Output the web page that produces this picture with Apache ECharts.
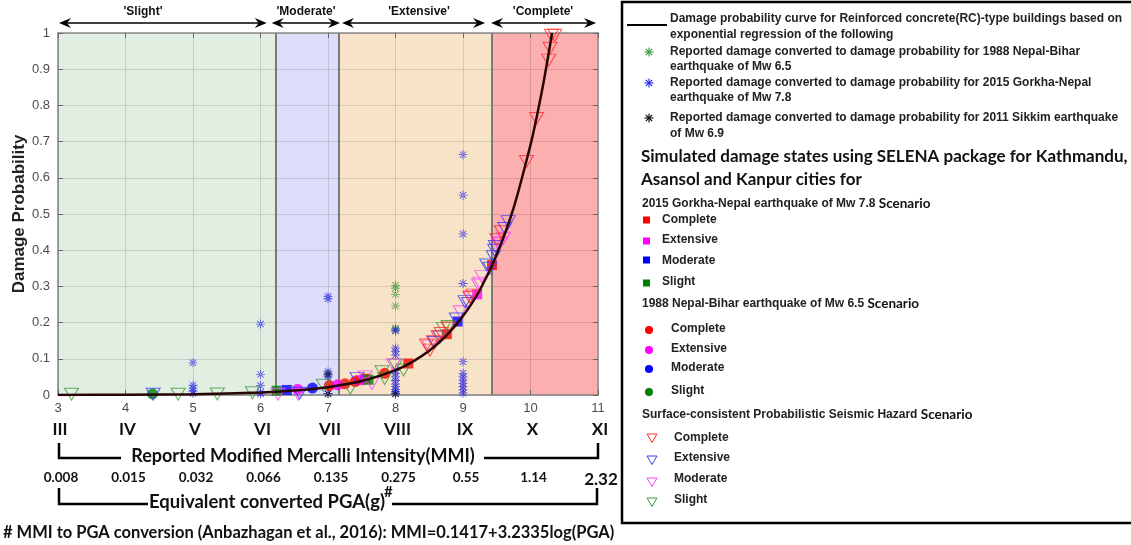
<!DOCTYPE html>
<html><head><meta charset="utf-8">
<script src="https://cdn.jsdelivr.net/npm/echarts@6/dist/echarts.min.js"></script>
<style>html,body{margin:0;padding:0;background:#fff}#c{width:1131px;height:545px}</style>
</head><body><div id="c"></div>
<script>
// ---------- DATA ----------
const mmiTicks = [3, 4, 5, 6, 7, 8, 9, 10, 11];
const romanLabels = ['III', 'IV', 'V', 'VI', 'VII', 'VIII', 'IX', 'X', 'XI'];
const pgaLabels = ['0.008', '0.015', '0.032', '0.066', '0.135', '0.275', '0.55', '1.14', '2.32'];
const bandLabels = ["'Slight'", "'Moderate'", "'Extensive'", "'Complete'"];
const bandEdges = [3, 6.225, 7.163, 9.43, 11];
const stateNames = ['Complete', 'Extensive', 'Moderate', 'Slight'];

// damage probability curve (exponential regression)
const curveMMI  = [3, 4, 5, 6, 6.5, 7, 7.5, 8, 8.25, 8.5, 8.75, 9, 9.25, 9.5, 9.75, 10, 10.1, 10.2, 10.32];
const curveProb = [0.0002, 0.0007, 0.0021, 0.0068, 0.0121, 0.0216, 0.0385, 0.0686, 0.0915, 0.122, 0.163, 0.218, 0.290, 0.388, 0.517, 0.691, 0.775, 0.870, 1.0];

// reported damage (asterisks)
const reportedNepalBihar1988 = [[8, 0.303], [8, 0.295], [8, 0.278], [8, 0.246], [8, 0.185], [8, 0.178]];
const reportedGorkha2015 = [
  [5, 0.089], [5, 0.027], [5, 0.019], [5, 0.011], [5, 0.004],
  [6, 0.196], [6, 0.057], [6, 0.026], [6, 0.008], [6, 0.003],
  [7, 0.272], [7, 0.266], [7, 0.064], [7, 0.055], [7, 0.050], [7, 0.004],
  [8, 0.182], [8, 0.177], [8, 0.130], [8, 0.120], [8, 0.110], [8, 0.069], [8, 0.060], [8, 0.050],
  [8, 0.040], [8, 0.030], [8, 0.023], [8, 0.015], [8, 0.009], [8, 0.004],
  [9, 0.664], [9, 0.552], [9, 0.445], [9, 0.308], [9, 0.092], [9, 0.060], [9, 0.050], [9, 0.041],
  [9, 0.032], [9, 0.023], [9, 0.014], [9, 0.005]
];
const reportedSikkim2011 = [[7, 0.003], [7, 0.058], [8, 0.003]];

// SELENA: 2015 Gorkha-Nepal scenario (filled squares)
const gorkhaComplete  = [[7.55, 0.045], [8.19, 0.087], [8.76, 0.168], [9.43, 0.359]];
const gorkhaExtensive = [[7.47, 0.041], [9.21, 0.278]];
const gorkhaModerate  = [[6.39, 0.014], [8.92, 0.203]];
const gorkhaSlight    = [[6.24, 0.012], [7.60, 0.042]];

// SELENA: 1988 Nepal-Bihar scenario (filled circles)
const biharComplete  = [[7.02, 0.026], [7.25, 0.031], [7.40, 0.037], [7.84, 0.060]];
const biharExtensive = [[6.55, 0.016], [7.14, 0.028]];
const biharModerate  = [[6.77, 0.019]];
const biharSlight    = [[4.40, 0.003]];

// Surface-consistent PSHA scenario (open down triangles)
const pshaComplete = [[10.31, 0.994], [10.36, 0.994], [10.29, 0.958], [10.27, 0.925], [10.09, 0.764], [9.94, 0.645],
  [9.57, 0.451], [9.50, 0.430], [9.15, 0.276], [9.10, 0.270], [8.78, 0.185], [8.68, 0.170], [8.63, 0.161],
  [8.56, 0.147], [8.51, 0.124], [8.46, 0.138]];
const pshaExtensive = [[4.41, 0.002], [6.58, 0.005], [7.43, 0.046], [8.58, 0.145], [8.66, 0.160], [8.90, 0.210],
  [9.03, 0.258], [9.08, 0.253], [9.35, 0.359], [9.40, 0.350], [9.45, 0.382], [9.47, 0.400], [9.48, 0.410],
  [9.62, 0.460], [9.67, 0.479]];
const pshaModerate = [[6.26, 0.002], [6.56, 0.002], [7.55, 0.050], [7.65, 0.032], [7.97, 0.083], [8.50, 0.135],
  [8.96, 0.230], [9.12, 0.270], [9.23, 0.304], [9.25, 0.309], [9.28, 0.327], [9.52, 0.419], [9.55, 0.419], [9.60, 0.433]];
const pshaSlight = [[3.20, 0.002], [4.78, 0.002], [5.36, 0.003], [5.88, 0.006], [6.93, 0.027], [7.33, 0.019],
  [7.80, 0.064], [7.84, 0.046], [8.00, 0.083], [8.12, 0.069], [8.71, 0.184], [8.78, 0.189]];

// ---------- STYLE ----------
const bandColors = ['#e2eee1', '#dedefa', '#f7e3c8', '#fcafaf'];
const stateColors = { Complete: '#ff0000', Extensive: '#ff00ff', Moderate: '#0000ff', Slight: '#008000' };
const triColors = { Complete: '#ff2a2a', Extensive: '#3a3aff', Moderate: '#ff3cff', Slight: '#3c9a3c' };
const ASTER = 'path://M-0.09,-1L0.09,-1L0.09,1L-0.09,1Z M-1,-0.09L1,-0.09L1,0.09L-1,0.09Z M-0.77,-0.64L0.64,0.77L0.77,0.64L-0.64,-0.77Z M-0.77,0.64L-0.64,0.77L0.77,-0.64L0.64,-0.77Z';
const TRI = 'path://M0,0L10,0L5,8.66Z';
const ARIAL = 'Liberation Sans, Arial, sans-serif';
const CAL = 'Lato, Calibri, sans-serif';

const chart = echarts.init(document.getElementById('c'), null, { renderer: 'canvas' });

function xAxisBase(extra) {
  return Object.assign({
    type: 'value', min: 3, max: 11, interval: 1, gridIndex: 0, z: 2,
    axisLine: { show: false }, axisTick: { show: false }, splitLine: { show: false },
    axisLabel: { show: false }
  }, extra);
}

const series = [];
series.push({
  type: 'custom', z: 1, silent: true,
  data: bandEdges.slice(0, -1).map((e, i) => [e, bandEdges[i + 1], i]),
  renderItem(params, api) {
    const p0 = api.coord([api.value(0), 1]);
    const p1 = api.coord([api.value(1), 0]);
    return { type: 'rect', shape: { x: p0[0], y: p0[1], width: p1[0] - p0[0], height: p1[1] - p0[1] },
      style: { fill: bandColors[api.value(2)] } };
  },
  markLine: {
    silent: true, symbol: 'none', label: { show: false },
    lineStyle: { color: '#7a7a7a', width: 2, type: 'solid' },
    data: bandEdges.slice(1, -1).map(v => ({ xAxis: v }))
  }
});

function scatter(name, data, symbol, size, style, z) {
  return { name, type: 'scatter', data, symbol, symbolSize: size, itemStyle: style, z: z || 4 };
}
series.push(scatter('Reported 1988', reportedNepalBihar1988, ASTER, 9, { color: '#3a9a3a' }, 4));
series.push(scatter('Reported 2015', reportedGorkha2015, ASTER, 9, { color: '#2626e6' }, 4));
series.push(scatter('Reported 2011', reportedSikkim2011, ASTER, 9, { color: '#000' }, 4));
const gorkha = [gorkhaComplete, gorkhaExtensive, gorkhaModerate, gorkhaSlight];
const bihar = [biharComplete, biharExtensive, biharModerate, biharSlight];
const psha = [pshaComplete, pshaExtensive, pshaModerate, pshaSlight];
stateNames.forEach((s, i) => {
  series.push(scatter('Gorkha ' + s, gorkha[i], 'rect', 10, { color: stateColors[s] }, 5));
});
stateNames.forEach((s, i) => {
  series.push(scatter('Bihar ' + s, bihar[i], 'circle', 11, { color: stateColors[s] }, 5));
});
[3, 2, 1, 0].forEach(i => {
  const s = stateNames[i];
  series.push(scatter('PSHA ' + s, psha[i], TRI, [14, 12],
    { color: 'rgba(0,0,0,0)', borderColor: triColors[s], borderWidth: 1 }, 6));
});
series.push({
  name: 'curve', type: 'line', z: 7, smooth: 0.3, showSymbol: false,
  data: curveMMI.map((x, i) => [x, curveProb[i]]),
  lineStyle: { color: '#2a0505', width: 2.5 }
});

const option = {
  animation: false,
  backgroundColor: '#fff',
  grid: { left: 58, right: 533, top: 33, bottom: 150, containLabel: false },
  xAxis: [
    xAxisBase({
      axisLine: { show: true, lineStyle: { color: '#808080', width: 1.5 } },
      axisTick: { show: true, inside: true, length: 5, lineStyle: { color: '#666' } },
      splitLine: { show: true, lineStyle: { color: 'rgba(0,0,0,0.12)', width: 1 } },
      axisLabel: { show: true, margin: 7, color: '#4d4d4d', fontSize: 13, fontFamily: ARIAL,
        showMinLabel: true, showMaxLabel: true },
      position: 'bottom'
    }),
    xAxisBase({
      position: 'bottom',
      axisLabel: { show: true, margin: 26, color: '#111', fontSize: 17, fontWeight: 'bold', fontFamily: CAL,
        showMinLabel: true, showMaxLabel: true, padding: [0, 0, 0, 4],
        formatter: v => romanLabels[mmiTicks.indexOf(Math.round(v))] || '' }
    }),
    xAxisBase({
      position: 'bottom',
      axisLabel: { show: true, margin: 76, color: '#111', fontSize: 13.5, fontWeight: 'bold', fontFamily: CAL,
        showMinLabel: true, showMaxLabel: true, padding: [0, 0, 0, 6],
        formatter: v => { const i = mmiTicks.indexOf(Math.round(v)); const t = pgaLabels[i] || '';
          return i === pgaLabels.length - 1 ? '{big|' + t + '}' : t; },
        rich: { big: { fontSize: 17, fontWeight: 'bold', fontFamily: CAL, color: '#111' } } }
    }),
    xAxisBase({
      position: 'top',
      axisLine: { show: true, lineStyle: { color: '#8a8a8a', width: 1.5 } },
      axisTick: { show: true, inside: true, length: 5, lineStyle: { color: '#666' } }
    })
  ],
  yAxis: [
    {
      type: 'value', min: 0, max: 1, interval: 0.1, z: 2, position: 'left',
      name: 'Damage Probability', nameLocation: 'middle', nameGap: 25,
      nameTextStyle: { fontSize: 17, fontWeight: 'bold', color: '#222', fontFamily: ARIAL },
      axisLine: { show: true, lineStyle: { color: '#808080', width: 1.5 } },
      axisTick: { show: true, inside: true, length: 5, lineStyle: { color: '#666' } },
      splitLine: { show: true, lineStyle: { color: 'rgba(0,0,0,0.12)', width: 1 } },
      axisLabel: { color: '#4d4d4d', fontSize: 13, fontFamily: ARIAL, margin: 8,
        formatter: v => (Math.round(v * 10) / 10).toString() }
    },
    {
      type: 'value', min: 0, max: 1, interval: 0.1, z: 2, position: 'right',
      axisLine: { show: true, lineStyle: { color: '#8a8a8a', width: 1.5 } },
      axisTick: { show: true, inside: true, length: 5, lineStyle: { color: '#666' } },
      splitLine: { show: false }, axisLabel: { show: false }
    }
  ],
  series
};
chart.setOption(option);

// ---------- ANNOTATIONS (graphic) ----------
const g = [];
const TXT = (x, y, text, font, extra) => ({
  type: 'text', x, y, silent: true,
  style: Object.assign({ text, fill: '#111', verticalAlign: 'middle', align: 'left' }, font, extra || {})
});
const arrowY = 23;
const arrowInsets = [[1, -9], [-4, 1], [3, -7], [-1, -2]];
const labelX = [143, 306, 419, 543];
function head(x, y, dir) {
  return { type: 'polygon', silent: true,
    shape: { points: [[x, y], [x - dir * 12, y - 5], [x - dir * 8, y], [x - dir * 12, y + 5]] },
    style: { fill: '#000' } };
}
for (let i = 0; i < 4; i++) {
  const xa = chart.convertToPixel({ gridIndex: 0 }, [bandEdges[i], 1])[0] + arrowInsets[i][0];
  const xb = chart.convertToPixel({ gridIndex: 0 }, [bandEdges[i + 1], 1])[0] + arrowInsets[i][1];
  g.push({ type: 'line', silent: true, shape: { x1: xa + 4, y1: arrowY, x2: xb - 4, y2: arrowY },
    style: { stroke: '#000', lineWidth: 1.3 } });
  g.push(head(xa, arrowY, -1));
  g.push(head(xb, arrowY, 1));
  g.push(TXT(labelX[i], 12, bandLabels[i], { font: 'bold 12px ' + ARIAL }, { align: 'center' }));
}

// bottom brackets
const L = (pts, w) => ({ type: 'polyline', silent: true, shape: { points: pts },
  style: { stroke: '#000', lineWidth: w || 2.5, fill: null } });
g.push(L([[59, 443], [59, 458], [121, 458]]));
g.push(L([[484, 458], [598, 458], [598, 443]]));
g.push(TXT(303, 456, 'Reported Modified Mercalli Intensity(MMI)', { font: 'bold 18px ' + CAL }, { align: 'center' }));
g.push(L([[59, 488], [59, 504], [148, 504]]));
g.push(L([[392, 504], [597, 504], [597, 488]]));
g.push(TXT(267, 502, 'Equivalent converted PGA(g)', { font: 'bold 18.5px ' + CAL }, { align: 'center' }));
g.push(TXT(384, 492, '#', { font: 'bold 15px ' + CAL }));
g.push(TXT(3, 533, '# MMI to PGA conversion (Anbazhagan et al., 2016): MMI=0.1417+3.2335log(PGA)', { font: 'bold 16.5px ' + CAL }));

// legend box
g.push({ type: 'rect', silent: true, shape: { x: 622, y: 2, width: 520, height: 521 },
  style: { fill: null, stroke: '#000', lineWidth: 2.5 } });
const LF = { font: 'bold 12px ' + ARIAL, fill: '#222' };
const LF12 = { font: 'bold 12px ' + ARIAL, fill: '#222' };
function asterisk(cx, cy, r, color) {
  const out = [];
  [[0, 1], [1, 0], [0.71, 0.71], [0.71, -0.71]].forEach(([dx, dy]) => {
    out.push({ type: 'line', silent: true, shape: { x1: cx - dx * r, y1: cy - dy * r, x2: cx + dx * r, y2: cy + dy * r },
      style: { stroke: color, lineWidth: 1.1 } });
  });
  return out;
}
g.push({ type: 'line', silent: true, shape: { x1: 627, y1: 25, x2: 667, y2: 25 }, style: { stroke: '#000', lineWidth: 2 } });
g.push(TXT(670, 19, 'Damage probability curve for Reinforced concrete(RC)-type buildings based on', LF));
g.push(TXT(670, 35, 'exponential regression of the following', LF));
g.push(...asterisk(649, 52, 4.5, '#3a9a3a'));
g.push(TXT(670, 52, 'Reported damage converted to damage probability for 1988 Nepal-Bihar', LF));
g.push(TXT(670, 67, 'earthquake of Mw 6.5', LF));
g.push(...asterisk(649, 83, 4.5, '#2626e6'));
g.push(TXT(670, 83, 'Reported damage converted to damage probability for 2015 Gorkha-Nepal', LF));
g.push(TXT(670, 98, 'earthquake of Mw 7.8', LF));
g.push(...asterisk(649, 118, 4.5, '#000'));
g.push(TXT(670, 118, 'Reported damage converted to damage probability for 2011 Sikkim earthquake', LF));
g.push(TXT(670, 134, 'of Mw 6.9', LF));
g.push(TXT(641, 157, 'Simulated damage states using SELENA package for Kathmandu,', { font: 'bold 17px ' + CAL, fill: '#111' }));
g.push(TXT(641, 180, 'Asansol and Kanpur cities for', { font: 'bold 17px ' + CAL, fill: '#111' }));

function header(y, text) {
  return { type: 'text', x: 642, y, silent: true,
    style: { text: '{a|' + text + ' }{b|Scenario}', verticalAlign: 'middle',
      rich: { a: { font: 'bold 12px ' + ARIAL, fill: '#222' }, b: { font: 'bold 13.5px ' + CAL, fill: '#111' } } } };
}
g.push(header(204, '2015 Gorkha-Nepal earthquake of Mw 7.8'));
const sqY = [220, 241, 260, 283], sqT = [220, 240, 261, 282];
stateNames.forEach((s, i) => {
  g.push({ type: 'rect', silent: true, shape: { x: 643, y: sqY[i] - 3.5, width: 7, height: 7 }, style: { fill: stateColors[s] } });
  g.push(TXT(662, sqT[i], s, LF12));
});
g.push(header(304, '1988 Nepal-Bihar earthquake of Mw 6.5'));
const ciY = [330, 350, 369, 392], ciT = [329, 349, 368, 391];
stateNames.forEach((s, i) => {
  g.push({ type: 'circle', silent: true, shape: { cx: 649, cy: ciY[i], r: 4 }, style: { fill: stateColors[s] } });
  g.push(TXT(671, ciT[i], s, LF12));
});
g.push(header(415, 'Surface-consistent Probabilistic Seismic Hazard'));
const trY = [438, 460, 482, 502], trT = [438, 458, 479, 500];
stateNames.forEach((s, i) => {
  const y = trY[i];
  g.push({ type: 'polygon', silent: true, shape: { points: [[647, y - 4], [657, y - 4], [652, y + 4.5]] },
    style: { fill: null, stroke: triColors[s], lineWidth: 1 } });
  g.push(TXT(674, trT[i], s, LF12));
});

chart.setOption({ graphic: { elements: g } });
</script>
</body></html>
